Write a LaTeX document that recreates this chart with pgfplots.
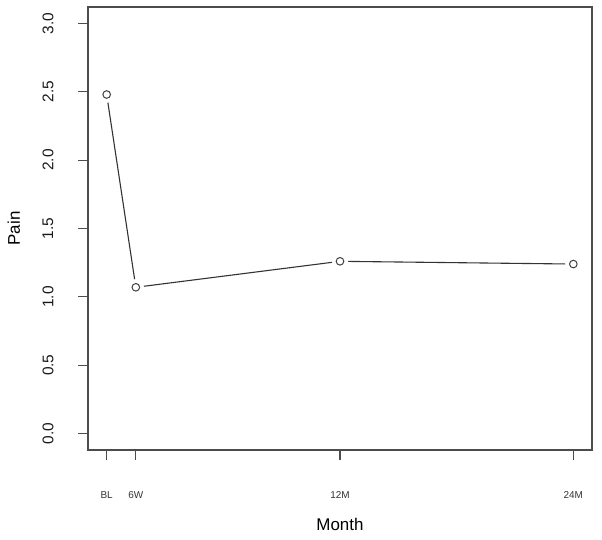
\documentclass[border=0pt]{standalone}
\usepackage{fontspec}
\setmainfont{Liberation Sans}
\usepackage{pgfplots}
\pgfplotsset{compat=1.18}

\begin{document}
\begin{tikzpicture}
\begin{axis}[
    scale only axis,
    width=504bp, height=443bp,
    xmin=-0.96, xmax=24.96,
    ymin=-0.12, ymax=3.12,
    axis line style={line width=1.1bp, draw=black!70},
    tick style={line width=1.1bp, draw=black!70},
    tick align=outside,
    major tick length=10bp,
    xtick={0,1.5,12,24},
    xticklabels={BL,6W,12M,24M},
    ytick={0,0.5,1,1.5,2,2.5,3},
    yticklabels={0.0,0.5,1.0,1.5,2.0,2.5,3.0},
    xtick pos=bottom, ytick pos=left,
    /pgf/number format/assume math mode=true,
    xticklabel style={font=\fontsize{10}{12}\selectfont, color=black!80, anchor=center, yshift=-35bp},
    yticklabel style={font=\fontsize{15.5}{17}\selectfont, color=black!90, xshift=-30bp, rotate=90, anchor=center},
    xlabel={Month}, ylabel={Pain},
    label style={font=\fontsize{17}{20}\selectfont},
    xlabel style={at={(axis description cs:0.5,-0.169)}, anchor=center},
    ylabel style={at={(axis description cs:-0.147,0.5)}, anchor=center},
    clip=false,
]
\addplot[line width=1.1bp, black!80, no markers]
    coordinates {(0,2.48) (1.5,1.07) (12,1.26) (24,1.24)};
\addplot[white, only marks, mark=*, mark size=8bp, mark options={fill=white, draw=white}]
    coordinates {(0,2.48) (1.5,1.07) (12,1.26) (24,1.24)};
\addplot[black!75, only marks, mark=o, mark size=3.8bp, mark options={line width=1bp, draw=black!75}]
    coordinates {(0,2.48) (1.5,1.07) (12,1.26) (24,1.24)};
\end{axis}
\pgfresetboundingbox
\path[use as bounding box] ([shift={(-88bp,-90bp)}]current axis.south west) rectangle ([shift={(10bp,7bp)}]current axis.north east);
\end{tikzpicture}
\end{document}
